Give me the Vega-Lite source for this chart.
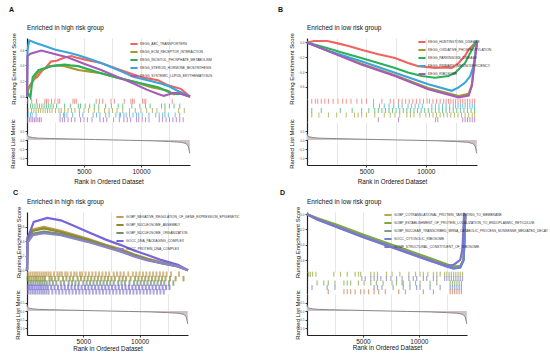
{
"$schema":"https://vega.github.io/schema/vega-lite/v6.json",
"background":"white",
"padding":{"left":9,"top":6,"right":0,"bottom":0},
"config":{
 "view":{"stroke":null},
 "font":"Liberation Sans",
 "axis":{"labelFontSize":3,"labelColor":"#555","titleFontSize":6,"titleFontWeight":"normal","titleColor":"#111","tickColor":"#444","tickSize":2,"labelPadding":1,"domainColor":"#222","domainWidth":1.2,"grid":false},
 "legend":{"title":null,"labelFontSize":3.3,"labelColor":"#333","symbolType":"M-1.8,0H1.8","symbolStrokeWidth":2,"symbolSize":16,"rowPadding":0,"labelOffset":3,"padding":0,"labelLimit":0},
 "title":{"fontSize":6.5,"fontWeight":"normal","anchor":"start","color":"#111","offset":1,"frame":"group"}
},
"datasets":{
 "metric":[{"r":0,"m":0.35},{"r":40,"m":0.25},{"r":150,"m":0.18},{"r":500,"m":0.13},{"r":1000,"m":0.1},{"r":2000,"m":0.08},{"r":4000,"m":0.05},{"r":6000,"m":0.02},{"r":7500,"m":0},{"r":9000,"m":-0.02},{"r":11000,"m":-0.05},{"r":12500,"m":-0.09},{"r":13500,"m":-0.13},{"r":13950,"m":-0.2},{"r":14150,"m":-0.35},{"r":14280,"m":-0.75}],
 "eA":[
  {"s":"KEGG_ABC_TRANSPORTERS","r":0,"v":0},{"s":"KEGG_ABC_TRANSPORTERS","r":100,"v":0.10},{"s":"KEGG_ABC_TRANSPORTERS","r":300,"v":0.14},{"s":"KEGG_ABC_TRANSPORTERS","r":600,"v":0.22},{"s":"KEGG_ABC_TRANSPORTERS","r":900,"v":0.25},{"s":"KEGG_ABC_TRANSPORTERS","r":1300,"v":0.33},{"s":"KEGG_ABC_TRANSPORTERS","r":1700,"v":0.38},{"s":"KEGG_ABC_TRANSPORTERS","r":2100,"v":0.45},{"s":"KEGG_ABC_TRANSPORTERS","r":2600,"v":0.46},{"s":"KEGG_ABC_TRANSPORTERS","r":3300,"v":0.50},{"s":"KEGG_ABC_TRANSPORTERS","r":3900,"v":0.52},{"s":"KEGG_ABC_TRANSPORTERS","r":4300,"v":0.50},{"s":"KEGG_ABC_TRANSPORTERS","r":5200,"v":0.47},{"s":"KEGG_ABC_TRANSPORTERS","r":6500,"v":0.43},{"s":"KEGG_ABC_TRANSPORTERS","r":8000,"v":0.35},{"s":"KEGG_ABC_TRANSPORTERS","r":9400,"v":0.28},{"s":"KEGG_ABC_TRANSPORTERS","r":10300,"v":0.24},{"s":"KEGG_ABC_TRANSPORTERS","r":11500,"v":0.21},{"s":"KEGG_ABC_TRANSPORTERS","r":12300,"v":0.15},{"s":"KEGG_ABC_TRANSPORTERS","r":13500,"v":0.10},{"s":"KEGG_ABC_TRANSPORTERS","r":14300,"v":0},
  {"s":"KEGG_ECM_RECEPTOR_INTERACTION","r":0,"v":0},{"s":"KEGG_ECM_RECEPTOR_INTERACTION","r":150,"v":0.12},{"s":"KEGG_ECM_RECEPTOR_INTERACTION","r":500,"v":0.2},{"s":"KEGG_ECM_RECEPTOR_INTERACTION","r":900,"v":0.3},{"s":"KEGG_ECM_RECEPTOR_INTERACTION","r":1300,"v":0.34},{"s":"KEGG_ECM_RECEPTOR_INTERACTION","r":2100,"v":0.39},{"s":"KEGG_ECM_RECEPTOR_INTERACTION","r":2700,"v":0.40},{"s":"KEGG_ECM_RECEPTOR_INTERACTION","r":3300,"v":0.39},{"s":"KEGG_ECM_RECEPTOR_INTERACTION","r":4500,"v":0.34},{"s":"KEGG_ECM_RECEPTOR_INTERACTION","r":5500,"v":0.32},{"s":"KEGG_ECM_RECEPTOR_INTERACTION","r":6500,"v":0.30},{"s":"KEGG_ECM_RECEPTOR_INTERACTION","r":8000,"v":0.24},{"s":"KEGG_ECM_RECEPTOR_INTERACTION","r":9400,"v":0.19},{"s":"KEGG_ECM_RECEPTOR_INTERACTION","r":10900,"v":0.12},{"s":"KEGG_ECM_RECEPTOR_INTERACTION","r":12300,"v":0.08},{"s":"KEGG_ECM_RECEPTOR_INTERACTION","r":12900,"v":0.03},{"s":"KEGG_ECM_RECEPTOR_INTERACTION","r":13300,"v":0.05},{"s":"KEGG_ECM_RECEPTOR_INTERACTION","r":14300,"v":0},
  {"s":"KEGG_INOSITOL_PHOSPHATE_METABOLISM","r":0,"v":0},{"s":"KEGG_INOSITOL_PHOSPHATE_METABOLISM","r":150,"v":0.03},{"s":"KEGG_INOSITOL_PHOSPHATE_METABOLISM","r":300,"v":-0.01},{"s":"KEGG_INOSITOL_PHOSPHATE_METABOLISM","r":500,"v":0.25},{"s":"KEGG_INOSITOL_PHOSPHATE_METABOLISM","r":1000,"v":0.34},{"s":"KEGG_INOSITOL_PHOSPHATE_METABOLISM","r":2100,"v":0.39},{"s":"KEGG_INOSITOL_PHOSPHATE_METABOLISM","r":3300,"v":0.41},{"s":"KEGG_INOSITOL_PHOSPHATE_METABOLISM","r":3800,"v":0.40},{"s":"KEGG_INOSITOL_PHOSPHATE_METABOLISM","r":4500,"v":0.39},{"s":"KEGG_INOSITOL_PHOSPHATE_METABOLISM","r":6500,"v":0.30},{"s":"KEGG_INOSITOL_PHOSPHATE_METABOLISM","r":8000,"v":0.24},{"s":"KEGG_INOSITOL_PHOSPHATE_METABOLISM","r":9400,"v":0.19},{"s":"KEGG_INOSITOL_PHOSPHATE_METABOLISM","r":11500,"v":0.12},{"s":"KEGG_INOSITOL_PHOSPHATE_METABOLISM","r":12600,"v":0.05},{"s":"KEGG_INOSITOL_PHOSPHATE_METABOLISM","r":13200,"v":0.03},{"s":"KEGG_INOSITOL_PHOSPHATE_METABOLISM","r":13700,"v":0.04},{"s":"KEGG_INOSITOL_PHOSPHATE_METABOLISM","r":14300,"v":0},
  {"s":"KEGG_STEROID_HORMONE_BIOSYNTHESIS","r":0,"v":0},{"s":"KEGG_STEROID_HORMONE_BIOSYNTHESIS","r":50,"v":0.6},{"s":"KEGG_STEROID_HORMONE_BIOSYNTHESIS","r":200,"v":0.72},{"s":"KEGG_STEROID_HORMONE_BIOSYNTHESIS","r":700,"v":0.69},{"s":"KEGG_STEROID_HORMONE_BIOSYNTHESIS","r":1500,"v":0.65},{"s":"KEGG_STEROID_HORMONE_BIOSYNTHESIS","r":2500,"v":0.6},{"s":"KEGG_STEROID_HORMONE_BIOSYNTHESIS","r":3600,"v":0.565},{"s":"KEGG_STEROID_HORMONE_BIOSYNTHESIS","r":4500,"v":0.53},{"s":"KEGG_STEROID_HORMONE_BIOSYNTHESIS","r":5500,"v":0.48},{"s":"KEGG_STEROID_HORMONE_BIOSYNTHESIS","r":6500,"v":0.43},{"s":"KEGG_STEROID_HORMONE_BIOSYNTHESIS","r":8000,"v":0.34},{"s":"KEGG_STEROID_HORMONE_BIOSYNTHESIS","r":9400,"v":0.25},{"s":"KEGG_STEROID_HORMONE_BIOSYNTHESIS","r":10300,"v":0.22},{"s":"KEGG_STEROID_HORMONE_BIOSYNTHESIS","r":11800,"v":0.164},{"s":"KEGG_STEROID_HORMONE_BIOSYNTHESIS","r":12500,"v":0.13},{"s":"KEGG_STEROID_HORMONE_BIOSYNTHESIS","r":13200,"v":0.076},{"s":"KEGG_STEROID_HORMONE_BIOSYNTHESIS","r":14300,"v":0},
  {"s":"KEGG_SYSTEMIC_LUPUS_ERYTHEMATOSUS","r":0,"v":0},{"s":"KEGG_SYSTEMIC_LUPUS_ERYTHEMATOSUS","r":40,"v":0.52},{"s":"KEGG_SYSTEMIC_LUPUS_ERYTHEMATOSUS","r":300,"v":0.55},{"s":"KEGG_SYSTEMIC_LUPUS_ERYTHEMATOSUS","r":1250,"v":0.59},{"s":"KEGG_SYSTEMIC_LUPUS_ERYTHEMATOSUS","r":2000,"v":0.56},{"s":"KEGG_SYSTEMIC_LUPUS_ERYTHEMATOSUS","r":3600,"v":0.5},{"s":"KEGG_SYSTEMIC_LUPUS_ERYTHEMATOSUS","r":5000,"v":0.42},{"s":"KEGG_SYSTEMIC_LUPUS_ERYTHEMATOSUS","r":6500,"v":0.34},{"s":"KEGG_SYSTEMIC_LUPUS_ERYTHEMATOSUS","r":8000,"v":0.25},{"s":"KEGG_SYSTEMIC_LUPUS_ERYTHEMATOSUS","r":9400,"v":0.164},{"s":"KEGG_SYSTEMIC_LUPUS_ERYTHEMATOSUS","r":10500,"v":0.09},{"s":"KEGG_SYSTEMIC_LUPUS_ERYTHEMATOSUS","r":11500,"v":0.035},{"s":"KEGG_SYSTEMIC_LUPUS_ERYTHEMATOSUS","r":12000,"v":0.01},{"s":"KEGG_SYSTEMIC_LUPUS_ERYTHEMATOSUS","r":12900,"v":0.05},{"s":"KEGG_SYSTEMIC_LUPUS_ERYTHEMATOSUS","r":13400,"v":0.04},{"s":"KEGG_SYSTEMIC_LUPUS_ERYTHEMATOSUS","r":14300,"v":0}
 ],
 "eB":[
  {"s":"KEGG_HUNTINGTONS_DISEASE","r":0,"v":0},{"s":"KEGG_HUNTINGTONS_DISEASE","r":600,"v":0.02},{"s":"KEGG_HUNTINGTONS_DISEASE","r":1700,"v":0.02},{"s":"KEGG_HUNTINGTONS_DISEASE","r":2600,"v":-0.013},{"s":"KEGG_HUNTINGTONS_DISEASE","r":3500,"v":-0.05},{"s":"KEGG_HUNTINGTONS_DISEASE","r":4570,"v":-0.1},{"s":"KEGG_HUNTINGTONS_DISEASE","r":6000,"v":-0.16},{"s":"KEGG_HUNTINGTONS_DISEASE","r":7400,"v":-0.213},{"s":"KEGG_HUNTINGTONS_DISEASE","r":8500,"v":-0.28},{"s":"KEGG_HUNTINGTONS_DISEASE","r":9360,"v":-0.324},{"s":"KEGG_HUNTINGTONS_DISEASE","r":10770,"v":-0.347},{"s":"KEGG_HUNTINGTONS_DISEASE","r":11500,"v":-0.34},{"s":"KEGG_HUNTINGTONS_DISEASE","r":12180,"v":-0.347},{"s":"KEGG_HUNTINGTONS_DISEASE","r":12750,"v":-0.28},{"s":"KEGG_HUNTINGTONS_DISEASE","r":13300,"v":-0.18},{"s":"KEGG_HUNTINGTONS_DISEASE","r":13600,"v":-0.1},{"s":"KEGG_HUNTINGTONS_DISEASE","r":14000,"v":-0.03},{"s":"KEGG_HUNTINGTONS_DISEASE","r":14300,"v":0},
  {"s":"KEGG_OXIDATIVE_PHOSPHORYLATION","r":0,"v":0},{"s":"KEGG_OXIDATIVE_PHOSPHORYLATION","r":4570,"v":-0.29},{"s":"KEGG_OXIDATIVE_PHOSPHORYLATION","r":7400,"v":-0.445},{"s":"KEGG_OXIDATIVE_PHOSPHORYLATION","r":10200,"v":-0.62},{"s":"KEGG_OXIDATIVE_PHOSPHORYLATION","r":12750,"v":-0.73},{"s":"KEGG_OXIDATIVE_PHOSPHORYLATION","r":13600,"v":-0.7},{"s":"KEGG_OXIDATIVE_PHOSPHORYLATION","r":13870,"v":-0.57},{"s":"KEGG_OXIDATIVE_PHOSPHORYLATION","r":14150,"v":-0.18},{"s":"KEGG_OXIDATIVE_PHOSPHORYLATION","r":14300,"v":0},
  {"s":"KEGG_PARKINSONS_DISEASE","r":0,"v":0},{"s":"KEGG_PARKINSONS_DISEASE","r":1750,"v":-0.08},{"s":"KEGG_PARKINSONS_DISEASE","r":3000,"v":-0.14},{"s":"KEGG_PARKINSONS_DISEASE","r":4570,"v":-0.213},{"s":"KEGG_PARKINSONS_DISEASE","r":6000,"v":-0.28},{"s":"KEGG_PARKINSONS_DISEASE","r":7400,"v":-0.347},{"s":"KEGG_PARKINSONS_DISEASE","r":8500,"v":-0.41},{"s":"KEGG_PARKINSONS_DISEASE","r":9640,"v":-0.458},{"s":"KEGG_PARKINSONS_DISEASE","r":10770,"v":-0.48},{"s":"KEGG_PARKINSONS_DISEASE","r":11900,"v":-0.458},{"s":"KEGG_PARKINSONS_DISEASE","r":12460,"v":-0.413},{"s":"KEGG_PARKINSONS_DISEASE","r":13300,"v":-0.28},{"s":"KEGG_PARKINSONS_DISEASE","r":13870,"v":-0.1},{"s":"KEGG_PARKINSONS_DISEASE","r":14300,"v":0.03},
  {"s":"KEGG_PRIMARY_IMMUNODEFICIENCY","r":0,"v":0},{"s":"KEGG_PRIMARY_IMMUNODEFICIENCY","r":1700,"v":-0.11},{"s":"KEGG_PRIMARY_IMMUNODEFICIENCY","r":4570,"v":-0.258},{"s":"KEGG_PRIMARY_IMMUNODEFICIENCY","r":7400,"v":-0.413},{"s":"KEGG_PRIMARY_IMMUNODEFICIENCY","r":10200,"v":-0.569},{"s":"KEGG_PRIMARY_IMMUNODEFICIENCY","r":12180,"v":-0.658},{"s":"KEGG_PRIMARY_IMMUNODEFICIENCY","r":12750,"v":-0.613},{"s":"KEGG_PRIMARY_IMMUNODEFICIENCY","r":13300,"v":-0.547},{"s":"KEGG_PRIMARY_IMMUNODEFICIENCY","r":13730,"v":-0.458},{"s":"KEGG_PRIMARY_IMMUNODEFICIENCY","r":14000,"v":-0.324},{"s":"KEGG_PRIMARY_IMMUNODEFICIENCY","r":14300,"v":0},
  {"s":"KEGG_RIBOSOME","r":0,"v":0},{"s":"KEGG_RIBOSOME","r":4570,"v":-0.302},{"s":"KEGG_RIBOSOME","r":7400,"v":-0.458},{"s":"KEGG_RIBOSOME","r":10200,"v":-0.636},{"s":"KEGG_RIBOSOME","r":12750,"v":-0.747},{"s":"KEGG_RIBOSOME","r":13600,"v":-0.724},{"s":"KEGG_RIBOSOME","r":13870,"v":-0.59},{"s":"KEGG_RIBOSOME","r":14150,"v":-0.19},{"s":"KEGG_RIBOSOME","r":14300,"v":0}
 ],
 "eC":[
  {"s":"GOBP_NEGATIVE_REGULATION_OF_GENE_EXPRESSION_EPIGENETIC","r":0,"v":0},{"s":"GOBP_NEGATIVE_REGULATION_OF_GENE_EXPRESSION_EPIGENETIC","r":50,"v":0.45},{"s":"GOBP_NEGATIVE_REGULATION_OF_GENE_EXPRESSION_EPIGENETIC","r":500,"v":0.56},{"s":"GOBP_NEGATIVE_REGULATION_OF_GENE_EXPRESSION_EPIGENETIC","r":1500,"v":0.595},{"s":"GOBP_NEGATIVE_REGULATION_OF_GENE_EXPRESSION_EPIGENETIC","r":3000,"v":0.54},{"s":"GOBP_NEGATIVE_REGULATION_OF_GENE_EXPRESSION_EPIGENETIC","r":5360,"v":0.436},{"s":"GOBP_NEGATIVE_REGULATION_OF_GENE_EXPRESSION_EPIGENETIC","r":7000,"v":0.35},{"s":"GOBP_NEGATIVE_REGULATION_OF_GENE_EXPRESSION_EPIGENETIC","r":8340,"v":0.29},{"s":"GOBP_NEGATIVE_REGULATION_OF_GENE_EXPRESSION_EPIGENETIC","r":9500,"v":0.22},{"s":"GOBP_NEGATIVE_REGULATION_OF_GENE_EXPRESSION_EPIGENETIC","r":10700,"v":0.16},{"s":"GOBP_NEGATIVE_REGULATION_OF_GENE_EXPRESSION_EPIGENETIC","r":11900,"v":0.11},{"s":"GOBP_NEGATIVE_REGULATION_OF_GENE_EXPRESSION_EPIGENETIC","r":13400,"v":0.06},{"s":"GOBP_NEGATIVE_REGULATION_OF_GENE_EXPRESSION_EPIGENETIC","r":14300,"v":0},
  {"s":"GOBP_NUCLEOSOME_ASSEMBLY","r":0,"v":0},{"s":"GOBP_NUCLEOSOME_ASSEMBLY","r":50,"v":0.42},{"s":"GOBP_NUCLEOSOME_ASSEMBLY","r":500,"v":0.54},{"s":"GOBP_NUCLEOSOME_ASSEMBLY","r":1500,"v":0.575},{"s":"GOBP_NUCLEOSOME_ASSEMBLY","r":3000,"v":0.525},{"s":"GOBP_NUCLEOSOME_ASSEMBLY","r":5360,"v":0.42},{"s":"GOBP_NUCLEOSOME_ASSEMBLY","r":7000,"v":0.34},{"s":"GOBP_NUCLEOSOME_ASSEMBLY","r":8340,"v":0.275},{"s":"GOBP_NUCLEOSOME_ASSEMBLY","r":9500,"v":0.21},{"s":"GOBP_NUCLEOSOME_ASSEMBLY","r":10700,"v":0.15},{"s":"GOBP_NUCLEOSOME_ASSEMBLY","r":11900,"v":0.1},{"s":"GOBP_NUCLEOSOME_ASSEMBLY","r":13400,"v":0.05},{"s":"GOBP_NUCLEOSOME_ASSEMBLY","r":14300,"v":0},
  {"s":"GOBP_NUCLEOSOME_ORGANIZATION","r":0,"v":0},{"s":"GOBP_NUCLEOSOME_ORGANIZATION","r":50,"v":0.40},{"s":"GOBP_NUCLEOSOME_ORGANIZATION","r":500,"v":0.5},{"s":"GOBP_NUCLEOSOME_ORGANIZATION","r":1500,"v":0.53},{"s":"GOBP_NUCLEOSOME_ORGANIZATION","r":3000,"v":0.5},{"s":"GOBP_NUCLEOSOME_ORGANIZATION","r":5360,"v":0.40},{"s":"GOBP_NUCLEOSOME_ORGANIZATION","r":7000,"v":0.325},{"s":"GOBP_NUCLEOSOME_ORGANIZATION","r":8340,"v":0.26},{"s":"GOBP_NUCLEOSOME_ORGANIZATION","r":9500,"v":0.2},{"s":"GOBP_NUCLEOSOME_ORGANIZATION","r":10700,"v":0.14},{"s":"GOBP_NUCLEOSOME_ORGANIZATION","r":11900,"v":0.095},{"s":"GOBP_NUCLEOSOME_ORGANIZATION","r":13400,"v":0.05},{"s":"GOBP_NUCLEOSOME_ORGANIZATION","r":14300,"v":0},
  {"s":"GOCC_DNA_PACKAGING_COMPLEX","r":0,"v":0},{"s":"GOCC_DNA_PACKAGING_COMPLEX","r":50,"v":0.44},{"s":"GOCC_DNA_PACKAGING_COMPLEX","r":600,"v":0.664},{"s":"GOCC_DNA_PACKAGING_COMPLEX","r":1800,"v":0.718},{"s":"GOCC_DNA_PACKAGING_COMPLEX","r":3000,"v":0.686},{"s":"GOCC_DNA_PACKAGING_COMPLEX","r":4000,"v":0.62},{"s":"GOCC_DNA_PACKAGING_COMPLEX","r":5360,"v":0.527},{"s":"GOCC_DNA_PACKAGING_COMPLEX","r":7000,"v":0.42},{"s":"GOCC_DNA_PACKAGING_COMPLEX","r":8340,"v":0.345},{"s":"GOCC_DNA_PACKAGING_COMPLEX","r":9500,"v":0.27},{"s":"GOCC_DNA_PACKAGING_COMPLEX","r":10700,"v":0.209},{"s":"GOCC_DNA_PACKAGING_COMPLEX","r":11900,"v":0.141},{"s":"GOCC_DNA_PACKAGING_COMPLEX","r":13400,"v":0.073},{"s":"GOCC_DNA_PACKAGING_COMPLEX","r":14300,"v":0},
  {"s":"GOCC_PROTEIN_DNA_COMPLEX","r":0,"v":0},{"s":"GOCC_PROTEIN_DNA_COMPLEX","r":50,"v":0.38},{"s":"GOCC_PROTEIN_DNA_COMPLEX","r":500,"v":0.48},{"s":"GOCC_PROTEIN_DNA_COMPLEX","r":1500,"v":0.51},{"s":"GOCC_PROTEIN_DNA_COMPLEX","r":3000,"v":0.48},{"s":"GOCC_PROTEIN_DNA_COMPLEX","r":5360,"v":0.39},{"s":"GOCC_PROTEIN_DNA_COMPLEX","r":7000,"v":0.315},{"s":"GOCC_PROTEIN_DNA_COMPLEX","r":8340,"v":0.255},{"s":"GOCC_PROTEIN_DNA_COMPLEX","r":9500,"v":0.19},{"s":"GOCC_PROTEIN_DNA_COMPLEX","r":10700,"v":0.135},{"s":"GOCC_PROTEIN_DNA_COMPLEX","r":11900,"v":0.1},{"s":"GOCC_PROTEIN_DNA_COMPLEX","r":13400,"v":0.055},{"s":"GOCC_PROTEIN_DNA_COMPLEX","r":14300,"v":0}
 ],
 "eD":[
  {"s":"GOBP_COTRANSLATIONAL_PROTEIN_TARGETING_TO_MEMBRANE","r":0,"v":0},{"s":"GOBP_COTRANSLATIONAL_PROTEIN_TARGETING_TO_MEMBRANE","r":900,"v":-0.055},{"s":"GOBP_COTRANSLATIONAL_PROTEIN_TARGETING_TO_MEMBRANE","r":2680,"v":-0.15},{"s":"GOBP_COTRANSLATIONAL_PROTEIN_TARGETING_TO_MEMBRANE","r":5070,"v":-0.28},{"s":"GOBP_COTRANSLATIONAL_PROTEIN_TARGETING_TO_MEMBRANE","r":8050,"v":-0.435},{"s":"GOBP_COTRANSLATIONAL_PROTEIN_TARGETING_TO_MEMBRANE","r":11030,"v":-0.59},{"s":"GOBP_COTRANSLATIONAL_PROTEIN_TARGETING_TO_MEMBRANE","r":12500,"v":-0.67},{"s":"GOBP_COTRANSLATIONAL_PROTEIN_TARGETING_TO_MEMBRANE","r":13100,"v":-0.70},{"s":"GOBP_COTRANSLATIONAL_PROTEIN_TARGETING_TO_MEMBRANE","r":13700,"v":-0.69},{"s":"GOBP_COTRANSLATIONAL_PROTEIN_TARGETING_TO_MEMBRANE","r":14000,"v":-0.6},{"s":"GOBP_COTRANSLATIONAL_PROTEIN_TARGETING_TO_MEMBRANE","r":14100,"v":-0.2},{"s":"GOBP_COTRANSLATIONAL_PROTEIN_TARGETING_TO_MEMBRANE","r":14150,"v":0},
  {"s":"GOBP_ESTABLISHMENT_OF_PROTEIN_LOCALIZATION_TO_ENDOPLASMIC_RETICULUM","r":0,"v":0},{"s":"GOBP_ESTABLISHMENT_OF_PROTEIN_LOCALIZATION_TO_ENDOPLASMIC_RETICULUM","r":900,"v":-0.05},{"s":"GOBP_ESTABLISHMENT_OF_PROTEIN_LOCALIZATION_TO_ENDOPLASMIC_RETICULUM","r":2680,"v":-0.14},{"s":"GOBP_ESTABLISHMENT_OF_PROTEIN_LOCALIZATION_TO_ENDOPLASMIC_RETICULUM","r":5070,"v":-0.27},{"s":"GOBP_ESTABLISHMENT_OF_PROTEIN_LOCALIZATION_TO_ENDOPLASMIC_RETICULUM","r":8050,"v":-0.425},{"s":"GOBP_ESTABLISHMENT_OF_PROTEIN_LOCALIZATION_TO_ENDOPLASMIC_RETICULUM","r":11030,"v":-0.58},{"s":"GOBP_ESTABLISHMENT_OF_PROTEIN_LOCALIZATION_TO_ENDOPLASMIC_RETICULUM","r":12500,"v":-0.66},{"s":"GOBP_ESTABLISHMENT_OF_PROTEIN_LOCALIZATION_TO_ENDOPLASMIC_RETICULUM","r":13100,"v":-0.69},{"s":"GOBP_ESTABLISHMENT_OF_PROTEIN_LOCALIZATION_TO_ENDOPLASMIC_RETICULUM","r":13700,"v":-0.68},{"s":"GOBP_ESTABLISHMENT_OF_PROTEIN_LOCALIZATION_TO_ENDOPLASMIC_RETICULUM","r":14000,"v":-0.6},{"s":"GOBP_ESTABLISHMENT_OF_PROTEIN_LOCALIZATION_TO_ENDOPLASMIC_RETICULUM","r":14100,"v":-0.2},{"s":"GOBP_ESTABLISHMENT_OF_PROTEIN_LOCALIZATION_TO_ENDOPLASMIC_RETICULUM","r":14150,"v":0},
  {"s":"GOBP_NUCLEAR_TRANSCRIBED_MRNA_CATABOLIC_PROCESS_NONSENSE_MEDIATED_DECAY","r":0,"v":0},{"s":"GOBP_NUCLEAR_TRANSCRIBED_MRNA_CATABOLIC_PROCESS_NONSENSE_MEDIATED_DECAY","r":900,"v":-0.06},{"s":"GOBP_NUCLEAR_TRANSCRIBED_MRNA_CATABOLIC_PROCESS_NONSENSE_MEDIATED_DECAY","r":2680,"v":-0.16},{"s":"GOBP_NUCLEAR_TRANSCRIBED_MRNA_CATABOLIC_PROCESS_NONSENSE_MEDIATED_DECAY","r":5070,"v":-0.29},{"s":"GOBP_NUCLEAR_TRANSCRIBED_MRNA_CATABOLIC_PROCESS_NONSENSE_MEDIATED_DECAY","r":8050,"v":-0.445},{"s":"GOBP_NUCLEAR_TRANSCRIBED_MRNA_CATABOLIC_PROCESS_NONSENSE_MEDIATED_DECAY","r":11030,"v":-0.6},{"s":"GOBP_NUCLEAR_TRANSCRIBED_MRNA_CATABOLIC_PROCESS_NONSENSE_MEDIATED_DECAY","r":12500,"v":-0.68},{"s":"GOBP_NUCLEAR_TRANSCRIBED_MRNA_CATABOLIC_PROCESS_NONSENSE_MEDIATED_DECAY","r":13100,"v":-0.71},{"s":"GOBP_NUCLEAR_TRANSCRIBED_MRNA_CATABOLIC_PROCESS_NONSENSE_MEDIATED_DECAY","r":13700,"v":-0.70},{"s":"GOBP_NUCLEAR_TRANSCRIBED_MRNA_CATABOLIC_PROCESS_NONSENSE_MEDIATED_DECAY","r":14000,"v":-0.6},{"s":"GOBP_NUCLEAR_TRANSCRIBED_MRNA_CATABOLIC_PROCESS_NONSENSE_MEDIATED_DECAY","r":14100,"v":-0.2},{"s":"GOBP_NUCLEAR_TRANSCRIBED_MRNA_CATABOLIC_PROCESS_NONSENSE_MEDIATED_DECAY","r":14150,"v":0},
  {"s":"GOCC_CYTOSOLIC_RIBOSOME","r":0,"v":0},{"s":"GOCC_CYTOSOLIC_RIBOSOME","r":900,"v":-0.065},{"s":"GOCC_CYTOSOLIC_RIBOSOME","r":2680,"v":-0.165},{"s":"GOCC_CYTOSOLIC_RIBOSOME","r":5070,"v":-0.3},{"s":"GOCC_CYTOSOLIC_RIBOSOME","r":8050,"v":-0.455},{"s":"GOCC_CYTOSOLIC_RIBOSOME","r":11030,"v":-0.61},{"s":"GOCC_CYTOSOLIC_RIBOSOME","r":12500,"v":-0.69},{"s":"GOCC_CYTOSOLIC_RIBOSOME","r":13100,"v":-0.715},{"s":"GOCC_CYTOSOLIC_RIBOSOME","r":13700,"v":-0.70},{"s":"GOCC_CYTOSOLIC_RIBOSOME","r":14000,"v":-0.6},{"s":"GOCC_CYTOSOLIC_RIBOSOME","r":14100,"v":-0.2},{"s":"GOCC_CYTOSOLIC_RIBOSOME","r":14150,"v":0},
  {"s":"GOMF_STRUCTURAL_CONSTITUENT_OF_RIBOSOME","r":0,"v":0},{"s":"GOMF_STRUCTURAL_CONSTITUENT_OF_RIBOSOME","r":900,"v":-0.07},{"s":"GOMF_STRUCTURAL_CONSTITUENT_OF_RIBOSOME","r":2680,"v":-0.17},{"s":"GOMF_STRUCTURAL_CONSTITUENT_OF_RIBOSOME","r":5070,"v":-0.305},{"s":"GOMF_STRUCTURAL_CONSTITUENT_OF_RIBOSOME","r":8050,"v":-0.46},{"s":"GOMF_STRUCTURAL_CONSTITUENT_OF_RIBOSOME","r":11030,"v":-0.615},{"s":"GOMF_STRUCTURAL_CONSTITUENT_OF_RIBOSOME","r":12500,"v":-0.68},{"s":"GOMF_STRUCTURAL_CONSTITUENT_OF_RIBOSOME","r":13100,"v":-0.667},{"s":"GOMF_STRUCTURAL_CONSTITUENT_OF_RIBOSOME","r":13700,"v":-0.6},{"s":"GOMF_STRUCTURAL_CONSTITUENT_OF_RIBOSOME","r":13900,"v":-0.45},{"s":"GOMF_STRUCTURAL_CONSTITUENT_OF_RIBOSOME","r":14000,"v":-0.1},{"s":"GOMF_STRUCTURAL_CONSTITUENT_OF_RIBOSOME","r":14050,"v":0.02}
 ],
 "tA":[
  {"k":1,"r":60},{"k":1,"r":410},{"k":1,"r":840},{"k":1,"r":1570},{"k":1,"r":1710},{"k":1,"r":1860},{"k":1,"r":2150},{"k":1,"r":2440},{"k":1,"r":2720},{"k":1,"r":2870},{"k":1,"r":4030},{"k":1,"r":4180},{"k":1,"r":4330},{"k":1,"r":6070},{"k":1,"r":6360},{"k":1,"r":6640},{"k":1,"r":7370},{"k":1,"r":7660},{"k":1,"r":8530},{"k":1,"r":9110},{"k":1,"r":9260},{"k":1,"r":9400},{"k":1,"r":10130},{"k":1,"r":10280},{"k":1,"r":10420},{"k":1,"r":12740},
  {"k":2,"r":300},{"k":2,"r":500},{"k":2,"r":700},{"k":2,"r":900},{"k":2,"r":1100},{"k":2,"r":1300},{"k":2,"r":1500},{"k":2,"r":1700},{"k":2,"r":1900},{"k":2,"r":2100},{"k":2,"r":2300},{"k":2,"r":2600},{"k":2,"r":3300},{"k":2,"r":3800},{"k":2,"r":4500},{"k":2,"r":4700},{"k":2,"r":5100},{"k":2,"r":5500},{"k":2,"r":5900},{"k":2,"r":6300},{"k":2,"r":6900},{"k":2,"r":7400},{"k":2,"r":8000},{"k":2,"r":8400},{"k":2,"r":9200},{"k":2,"r":9900},{"k":2,"r":10400},{"k":2,"r":10800},{"k":2,"r":11800},{"k":2,"r":12100},{"k":2,"r":12500},{"k":2,"r":12900},{"k":2,"r":13400},
  {"k":3,"r":100},{"k":3,"r":400},{"k":3,"r":600},{"k":3,"r":800},{"k":3,"r":1000},{"k":3,"r":1200},{"k":3,"r":1400},{"k":3,"r":1600},{"k":3,"r":1800},{"k":3,"r":2000},{"k":3,"r":2200},{"k":3,"r":2500},{"k":3,"r":2800},{"k":3,"r":3000},{"k":3,"r":3300},{"k":3,"r":3600},{"k":3,"r":3900},{"k":3,"r":4200},{"k":3,"r":4600},{"k":3,"r":5000},{"k":3,"r":5400},{"k":3,"r":5900},{"k":3,"r":6300},{"k":3,"r":6800},{"k":3,"r":7200},{"k":3,"r":7500},{"k":3,"r":7900},{"k":3,"r":8400},{"k":3,"r":9000},{"k":3,"r":9500},{"k":3,"r":10000},{"k":3,"r":10500},{"k":3,"r":11000},{"k":3,"r":11400},{"k":3,"r":12100},{"k":3,"r":13300},{"k":3,"r":13800},
  {"k":4,"r":100},{"k":4,"r":300},{"k":4,"r":450},{"k":4,"r":800},{"k":4,"r":2900},{"k":4,"r":3200},{"k":4,"r":3300},{"k":4,"r":3500},{"k":4,"r":4000},{"k":4,"r":4600},{"k":4,"r":4900},{"k":4,"r":5800},{"k":4,"r":6100},{"k":4,"r":6400},{"k":4,"r":6900},{"k":4,"r":7200},{"k":4,"r":7800},{"k":4,"r":8100},{"k":4,"r":8200},{"k":4,"r":8500},{"k":4,"r":8700},{"k":4,"r":9000},{"k":4,"r":9300},{"k":4,"r":9600},{"k":4,"r":9800},{"k":4,"r":10100},{"k":4,"r":10700},{"k":4,"r":11300},{"k":4,"r":11600},{"k":4,"r":11900},{"k":4,"r":12100},{"k":4,"r":12400},{"k":4,"r":13000},{"k":4,"r":13400},
  {"k":5,"r":50},{"k":5,"r":200},{"k":5,"r":350},{"k":5,"r":500},{"k":5,"r":650},{"k":5,"r":800},{"k":5,"r":950},{"k":5,"r":1100},{"k":5,"r":1250},{"k":5,"r":2900},{"k":5,"r":3100},{"k":5,"r":3300},{"k":5,"r":3600},{"k":5,"r":3900},{"k":5,"r":4200},{"k":5,"r":4700},{"k":5,"r":5000},{"k":5,"r":5300},{"k":5,"r":5700},{"k":5,"r":6400},{"k":5,"r":6700},{"k":5,"r":7000},{"k":5,"r":7600},{"k":5,"r":8100},{"k":5,"r":8500},{"k":5,"r":8800},{"k":5,"r":9100},{"k":5,"r":9600},{"k":5,"r":9800},{"k":5,"r":10100},{"k":5,"r":10400},{"k":5,"r":10700},{"k":5,"r":11600},{"k":5,"r":11900},{"k":5,"r":12200},{"k":5,"r":12500},{"k":5,"r":12800},{"k":5,"r":13100},{"k":5,"r":13400},{"k":5,"r":13700}
 ],
 "tB":[
  {"k":1,"r":400},{"k":1,"r":700},{"k":1,"r":900},{"k":1,"r":1200},{"k":1,"r":1500},{"k":1,"r":1800},{"k":1,"r":2200},{"k":1,"r":2600},{"k":1,"r":3000},{"k":1,"r":3300},{"k":1,"r":3700},{"k":1,"r":4200},{"k":1,"r":4600},{"k":1,"r":5000},{"k":1,"r":5600},{"k":1,"r":6300},{"k":1,"r":7000},{"k":1,"r":7300},{"k":1,"r":7700},{"k":1,"r":8000},{"k":1,"r":8300},{"k":1,"r":8600},{"k":1,"r":8900},{"k":1,"r":9200},{"k":1,"r":9500},{"k":1,"r":9800},{"k":1,"r":10100},{"k":1,"r":10300},{"k":1,"r":10600},{"k":1,"r":10900},{"k":1,"r":11200},{"k":1,"r":11500},{"k":1,"r":11700},{"k":1,"r":11900},{"k":1,"r":12100},{"k":1,"r":12300},{"k":1,"r":12500},{"k":1,"r":12700},{"k":1,"r":12900},{"k":1,"r":13100},{"k":1,"r":13300},{"k":1,"r":13500},{"k":1,"r":13700},{"k":1,"r":13900},{"k":1,"r":14100},
  {"k":2,"r":5600},{"k":2,"r":6100},{"k":2,"r":6500},{"k":2,"r":6900},{"k":2,"r":7300},{"k":2,"r":7700},{"k":2,"r":8000},{"k":2,"r":8500},{"k":2,"r":8800},{"k":2,"r":9100},{"k":2,"r":9400},{"k":2,"r":9700},{"k":2,"r":10500},{"k":2,"r":10800},{"k":2,"r":11100},{"k":2,"r":11400},{"k":2,"r":11700},{"k":2,"r":12000},{"k":2,"r":12300},{"k":2,"r":12500},{"k":2,"r":12700},{"k":2,"r":12900},{"k":2,"r":13100},{"k":2,"r":13300},{"k":2,"r":13500},{"k":2,"r":13700},{"k":2,"r":13900},{"k":2,"r":14100},
  {"k":3,"r":400},{"k":3,"r":1200},{"k":3,"r":2800},{"k":3,"r":3800},{"k":3,"r":4600},{"k":3,"r":5200},{"k":3,"r":5700},{"k":3,"r":6000},{"k":3,"r":6300},{"k":3,"r":6600},{"k":3,"r":6900},{"k":3,"r":7200},{"k":3,"r":7500},{"k":3,"r":7800},{"k":3,"r":8100},{"k":3,"r":8400},{"k":3,"r":8700},{"k":3,"r":9000},{"k":3,"r":9300},{"k":3,"r":9600},{"k":3,"r":9900},{"k":3,"r":10200},{"k":3,"r":10500},{"k":3,"r":10800},{"k":3,"r":11100},{"k":3,"r":11400},{"k":3,"r":11700},{"k":3,"r":12000},{"k":3,"r":12300},{"k":3,"r":12600},{"k":3,"r":12900},{"k":3,"r":13200},{"k":3,"r":13500},{"k":3,"r":13800},{"k":3,"r":14100},
  {"k":4,"r":400},{"k":4,"r":1000},{"k":4,"r":1800},{"k":4,"r":2500},{"k":4,"r":3300},{"k":4,"r":4000},{"k":4,"r":4300},{"k":4,"r":4600},{"k":4,"r":5000},{"k":4,"r":5700},{"k":4,"r":6500},{"k":4,"r":7000},{"k":4,"r":7400},{"k":4,"r":7800},{"k":4,"r":8400},{"k":4,"r":8700},{"k":4,"r":9000},{"k":4,"r":9500},{"k":4,"r":10000},{"k":4,"r":10300},{"k":4,"r":10600},{"k":4,"r":10900},{"k":4,"r":11200},{"k":4,"r":11500},{"k":4,"r":11800},{"k":4,"r":12100},{"k":4,"r":12400},{"k":4,"r":12700},{"k":4,"r":13000},{"k":4,"r":13300},{"k":4,"r":13600},{"k":4,"r":13900},{"k":4,"r":14100},
  {"k":5,"r":6000},{"k":5,"r":7700},{"k":5,"r":10800},{"k":5,"r":11000},{"k":5,"r":13100},{"k":5,"r":13300},{"k":5,"r":13500},{"k":5,"r":13700},{"k":5,"r":13900},{"k":5,"r":14100}
 ],
 "tC":[
  {"k":1,"r":100},{"k":1,"r":300},{"k":1,"r":500},{"k":1,"r":700},{"k":1,"r":900},{"k":1,"r":1100},{"k":1,"r":1300},{"k":1,"r":1500},{"k":1,"r":1700},{"k":1,"r":1900},{"k":1,"r":2100},{"k":1,"r":2400},{"k":1,"r":2700},{"k":1,"r":2900},{"k":1,"r":3100},{"k":1,"r":3400},{"k":1,"r":3600},{"k":1,"r":3900},{"k":1,"r":4200},{"k":1,"r":4400},{"k":1,"r":4700},{"k":1,"r":4900},{"k":1,"r":5200},{"k":1,"r":5500},{"k":1,"r":5800},{"k":1,"r":6100},{"k":1,"r":6400},{"k":1,"r":6700},{"k":1,"r":7000},{"k":1,"r":7300},{"k":1,"r":7700},{"k":1,"r":8000},{"k":1,"r":8300},{"k":1,"r":8600},{"k":1,"r":9000},{"k":1,"r":9400},{"k":1,"r":9700},{"k":1,"r":10000},{"k":1,"r":10300},{"k":1,"r":10600},{"k":1,"r":10900},{"k":1,"r":11200},{"k":1,"r":11500},{"k":1,"r":11800},{"k":1,"r":12100},{"k":1,"r":12400},{"k":1,"r":12800},{"k":1,"r":13500},
  {"k":2,"r":50},{"k":2,"r":200},{"k":2,"r":400},{"k":2,"r":600},{"k":2,"r":800},{"k":2,"r":1000},{"k":2,"r":1200},{"k":2,"r":1400},{"k":2,"r":1600},{"k":2,"r":2000},{"k":2,"r":2200},{"k":2,"r":2500},{"k":2,"r":2800},{"k":2,"r":3200},{"k":2,"r":3500},{"k":2,"r":3800},{"k":2,"r":4100},{"k":2,"r":4500},{"k":2,"r":4800},{"k":2,"r":5100},{"k":2,"r":5400},{"k":2,"r":5700},{"k":2,"r":6000},{"k":2,"r":6300},{"k":2,"r":6600},{"k":2,"r":6900},{"k":2,"r":7200},{"k":2,"r":7500},{"k":2,"r":7800},{"k":2,"r":8200},{"k":2,"r":8500},{"k":2,"r":8800},{"k":2,"r":9200},{"k":2,"r":9600},{"k":2,"r":9900},{"k":2,"r":10200},{"k":2,"r":10500},{"k":2,"r":10800},{"k":2,"r":11100},{"k":2,"r":11400},{"k":2,"r":11700},{"k":2,"r":12000},{"k":2,"r":12300},{"k":2,"r":12700},{"k":2,"r":13200},{"k":2,"r":13900},
  {"k":3,"r":150},{"k":3,"r":350},{"k":3,"r":550},{"k":3,"r":750},{"k":3,"r":950},{"k":3,"r":1150},{"k":3,"r":1350},{"k":3,"r":1550},{"k":3,"r":1750},{"k":3,"r":2000},{"k":3,"r":2300},{"k":3,"r":2600},{"k":3,"r":3000},{"k":3,"r":3300},{"k":3,"r":3700},{"k":3,"r":4000},{"k":3,"r":4300},{"k":3,"r":4600},{"k":3,"r":5000},{"k":3,"r":5300},{"k":3,"r":5600},{"k":3,"r":5900},{"k":3,"r":6200},{"k":3,"r":6500},{"k":3,"r":6800},{"k":3,"r":7100},{"k":3,"r":7400},{"k":3,"r":7700},{"k":3,"r":8100},{"k":3,"r":8400},{"k":3,"r":8700},{"k":3,"r":9100},{"k":3,"r":9500},{"k":3,"r":9800},{"k":3,"r":10100},{"k":3,"r":10400},{"k":3,"r":10700},{"k":3,"r":11000},{"k":3,"r":11300},{"k":3,"r":11600},{"k":3,"r":11900},{"k":3,"r":12200},{"k":3,"r":12600},{"k":3,"r":13000},
  {"k":4,"r":80},{"k":4,"r":250},{"k":4,"r":450},{"k":4,"r":650},{"k":4,"r":850},{"k":4,"r":1050},{"k":4,"r":1250},{"k":4,"r":1450},{"k":4,"r":1650},{"k":4,"r":1850},{"k":4,"r":2150},{"k":4,"r":2450},{"k":4,"r":2750},{"k":4,"r":3050},{"k":4,"r":3350},{"k":4,"r":3650},{"k":4,"r":3950},{"k":4,"r":4250},{"k":4,"r":4550},{"k":4,"r":4850},{"k":4,"r":5150},{"k":4,"r":5450},{"k":4,"r":5750},{"k":4,"r":6050},{"k":4,"r":6350},{"k":4,"r":6650},{"k":4,"r":6950},{"k":4,"r":7250},{"k":4,"r":7550},{"k":4,"r":7850},{"k":4,"r":8150},{"k":4,"r":8450},{"k":4,"r":8750},{"k":4,"r":9050},{"k":4,"r":9350},{"k":4,"r":9650},{"k":4,"r":9950},{"k":4,"r":10250},{"k":4,"r":10550},{"k":4,"r":10850},{"k":4,"r":11150},{"k":4,"r":11450},{"k":4,"r":11750},{"k":4,"r":12050},{"k":4,"r":12350},{"k":4,"r":12650},
  {"k":5,"r":120},{"k":5,"r":320},{"k":5,"r":520},{"k":5,"r":720},{"k":5,"r":920},{"k":5,"r":1120},{"k":5,"r":1320},{"k":5,"r":1520},{"k":5,"r":1720},{"k":5,"r":1920},{"k":5,"r":2250},{"k":5,"r":2550},{"k":5,"r":2850},{"k":5,"r":3150},{"k":5,"r":3450},{"k":5,"r":3750},{"k":5,"r":4050},{"k":5,"r":4350},{"k":5,"r":4650},{"k":5,"r":4950},{"k":5,"r":5250},{"k":5,"r":5550},{"k":5,"r":5850},{"k":5,"r":6150},{"k":5,"r":6450},{"k":5,"r":6750},{"k":5,"r":7050},{"k":5,"r":7350},{"k":5,"r":7650},{"k":5,"r":7950},{"k":5,"r":8250},{"k":5,"r":8550},{"k":5,"r":8850},{"k":5,"r":9150},{"k":5,"r":9450},{"k":5,"r":9750},{"k":5,"r":10050},{"k":5,"r":10350},{"k":5,"r":10650},{"k":5,"r":10950},{"k":5,"r":11250},{"k":5,"r":11550},{"k":5,"r":11850},{"k":5,"r":12150}
 ],
 "tD":[
  {"k":1,"r":150},{"k":1,"r":300},{"k":1,"r":500},{"k":1,"r":800},{"k":1,"r":2400},{"k":1,"r":3000},{"k":1,"r":3600},{"k":1,"r":4300},{"k":1,"r":4600},{"k":1,"r":4800},{"k":1,"r":5700},{"k":1,"r":6000},{"k":1,"r":6300},{"k":1,"r":7100},{"k":1,"r":7600},{"k":1,"r":8300},{"k":1,"r":9100},{"k":1,"r":9700},{"k":1,"r":10100},{"k":1,"r":10400},{"k":1,"r":10800},{"k":1,"r":11300},{"k":1,"r":11600},{"k":1,"r":11900},{"k":1,"r":12300},{"k":1,"r":12500},{"k":1,"r":12700},{"k":1,"r":12900},{"k":1,"r":13100},{"k":1,"r":13300},{"k":1,"r":13500},{"k":1,"r":13700},{"k":1,"r":13900},
  {"k":2,"r":4900},{"k":2,"r":5200},{"k":2,"r":5700},{"k":2,"r":6000},{"k":2,"r":6300},{"k":2,"r":6600},{"k":2,"r":7100},{"k":2,"r":7500},{"k":2,"r":8000},{"k":2,"r":8500},{"k":2,"r":9100},{"k":2,"r":9500},{"k":2,"r":9800},{"k":2,"r":10400},{"k":2,"r":10700},{"k":2,"r":11300},{"k":2,"r":11600},{"k":2,"r":12300},{"k":2,"r":12500},{"k":2,"r":12700},{"k":2,"r":12900},{"k":2,"r":13100},{"k":2,"r":13300},{"k":2,"r":13500},{"k":2,"r":13700},{"k":2,"r":13900},
  {"k":3,"r":900},{"k":3,"r":1500},{"k":3,"r":1900},{"k":3,"r":2500},{"k":3,"r":3300},{"k":3,"r":3600},{"k":3,"r":3900},{"k":3,"r":4600},{"k":3,"r":5100},{"k":3,"r":5700},{"k":3,"r":6200},{"k":3,"r":6800},{"k":3,"r":7600},{"k":3,"r":8000},{"k":3,"r":8500},{"k":3,"r":8600},{"k":3,"r":9200},{"k":3,"r":9700},{"k":3,"r":10100},{"k":3,"r":11000},{"k":3,"r":11600},{"k":3,"r":12800},{"k":3,"r":13000},{"k":3,"r":13200},{"k":3,"r":13400},{"k":3,"r":13600},{"k":3,"r":13800},
  {"k":4,"r":450},{"k":4,"r":1800},{"k":4,"r":2500},{"k":4,"r":6000},{"k":4,"r":6300},{"k":4,"r":6700},{"k":4,"r":7700},{"k":4,"r":8600},{"k":4,"r":9200},{"k":4,"r":9800},{"k":4,"r":10100},{"k":4,"r":11000},{"k":4,"r":11900},{"k":4,"r":12800},{"k":4,"r":13000},{"k":4,"r":13200},{"k":4,"r":13400},{"k":4,"r":13600},{"k":4,"r":13800},
  {"k":5,"r":1900},{"k":5,"r":3300},{"k":5,"r":3600},{"k":5,"r":3900},{"k":5,"r":4300},{"k":5,"r":4800},{"k":5,"r":5100},{"k":5,"r":5500},{"k":5,"r":6000},{"k":5,"r":6400},{"k":5,"r":7000},{"k":5,"r":8200},{"k":5,"r":8800},{"k":5,"r":10400},{"k":5,"r":11300},{"k":5,"r":12800},{"k":5,"r":13000},{"k":5,"r":13200},{"k":5,"r":13400},{"k":5,"r":13600},{"k":5,"r":13800}
 ]
},
"columns":2,
"align":"each",
"bounds":"flush",
"spacing":{"row":0,"column":117},
"resolve":{"scale":{"color":"independent","x":"independent","y":"independent"}},
"concat":[
 {"width":163,"height":24,"data":{"values":[]},"mark":{"type":"point"},"title":{"text":"A","fontSize":7,"fontWeight":"bold","offset":1,"dx":-18}},
 {"width":170,"height":24,"data":{"values":[]},"mark":{"type":"point"},"title":{"text":"B","fontSize":7,"fontWeight":"bold","offset":1,"dx":-29}},
 {"width":163,"height":61,"title":{"text":"Enriched in high risk group"},
  "data":{"name":"eA"},
  "mark":{"type":"line","strokeWidth":2.1},
  "encoding":{
   "x":{"field":"r","type":"quantitative","scale":{"domain":[0,14300],"nice":false,"zero":false},"axis":{"values":[2500,5000,7500,10000,12500],"labels":false,"ticks":false,"domain":false,"title":null,"grid":true,"gridColor":"#e6e6e6"}},
   "y":{"field":"v","type":"quantitative","scale":{"domain":[-0.03,0.75],"nice":false,"zero":false},"axis":{"values":[0,0.2,0.4,0.6],"format":".1f","title":"Running Enrichment Score","titlePadding":3}},
   "color":{"field":"s","type":"nominal","scale":{"domain":["KEGG_ABC_TRANSPORTERS","KEGG_ECM_RECEPTOR_INTERACTION","KEGG_INOSITOL_PHOSPHATE_METABOLISM","KEGG_STEROID_HORMONE_BIOSYNTHESIS","KEGG_SYSTEMIC_LUPUS_ERYTHEMATOSUS"],"range":["#F0645F","#A39A2E","#2EAF5A","#3AA4DC","#A65BB8"]},"legend":{"orient":"none","legendX":104,"legendY":3,"symbolSize":16}}
  }},
 {"width":170,"height":61,"title":{"text":"Enriched in low risk group"},
  "data":{"name":"eB"},
  "mark":{"type":"line","strokeWidth":2.1},
  "encoding":{
   "x":{"field":"r","type":"quantitative","scale":{"domain":[0,14300],"nice":false,"zero":false},"axis":{"values":[2500,5000,7500,10000,12500],"labels":false,"ticks":false,"domain":false,"title":null,"grid":true,"gridColor":"#e6e6e6"}},
   "y":{"field":"v","type":"quantitative","scale":{"domain":[-0.77,0.06],"nice":false,"zero":false},"axis":{"values":[-0.6,-0.4,-0.2,0],"format":".1f","title":"Running Enrichment Score","titlePadding":3.5}},
   "color":{"field":"s","type":"nominal","scale":{"domain":["KEGG_HUNTINGTONS_DISEASE","KEGG_OXIDATIVE_PHOSPHORYLATION","KEGG_PARKINSONS_DISEASE","KEGG_PRIMARY_IMMUNODEFICIENCY","KEGG_RIBOSOME"],"range":["#F0645F","#A39A2E","#2EAF5A","#3AA4DC","#A65BB8"]},"legend":{"orient":"none","legendX":112,"legendY":1,"symbolSize":16}}
  }},
 {"width":163,"height":23,"data":{"name":"tA"},
  "mark":{"type":"tick","thickness":1,"size":5},
  "encoding":{
   "x":{"field":"r","type":"quantitative","scale":{"domain":[0,14300],"nice":false,"zero":false},"axis":null},
   "y":{"field":"k","type":"nominal","axis":{"labels":false,"ticks":false,"title":null}},
   "color":{"field":"k","type":"nominal","scale":{"domain":[1,2,3,4,5],"range":["#F0645F","#2EAF5A","#A39A2E","#3AA4DC","#A65BB8"]},"legend":null}
  }},
 {"width":170,"height":23,"data":{"name":"tB"},
  "mark":{"type":"tick","thickness":1,"size":5},
  "encoding":{
   "x":{"field":"r","type":"quantitative","scale":{"domain":[0,14300],"nice":false,"zero":false},"axis":null},
   "y":{"field":"k","type":"nominal","axis":{"labels":false,"ticks":false,"title":null}},
   "color":{"field":"k","type":"nominal","scale":{"domain":[1,2,3,4,5],"range":["#F0645F","#3AA4DC","#2EAF5A","#A39A2E","#A65BB8"]},"legend":null}
  }},
 {"width":163,"height":43,"data":{"name":"metric"},
  "encoding":{
   "x":{"field":"r","type":"quantitative","scale":{"domain":[0,14300],"nice":false,"zero":false},"axis":{"values":[2500,5000,7500,10000,12500],"format":"d","labelExpr":"datum.value % 5000 === 0 ? datum.label : ''","labelFontSize":6.5,"labelColor":"#222","labelPadding":1.5,"title":"Rank in Ordered Dataset","titleFontSize":6.3,"titlePadding":3,"grid":true,"gridColor":"#e6e6e6","tickColor":{"condition":{"test":"datum.value % 5000 === 0","value":"#444"},"value":"transparent"}}},
   "y":{"field":"m","type":"quantitative","scale":{"domain":[-1.4,1],"nice":false,"zero":false},"axis":{"values":[-1,-0.5,0,0.5],"format":".1f","title":"Ranked List Metric","titlePadding":3}}
  },
  "layer":[
   {"mark":{"type":"area","color":"#cbc3c7"},"encoding":{"y2":{"datum":0}}},
   {"mark":{"type":"line","color":"#8e868a","strokeWidth":1}}
  ]},
 {"width":170,"height":43,"data":{"name":"metric"},
  "encoding":{
   "x":{"field":"r","type":"quantitative","scale":{"domain":[0,14300],"nice":false,"zero":false},"axis":{"values":[2500,5000,7500,10000,12500],"format":"d","labelExpr":"datum.value % 5000 === 0 ? datum.label : ''","labelFontSize":6.5,"labelColor":"#222","labelPadding":1.5,"title":"Rank in Ordered Dataset","titleFontSize":6.3,"titlePadding":3,"grid":true,"gridColor":"#e6e6e6","tickColor":{"condition":{"test":"datum.value % 5000 === 0","value":"#444"},"value":"transparent"}}},
   "y":{"field":"m","type":"quantitative","scale":{"domain":[-1.4,1],"nice":false,"zero":false},"axis":{"values":[-1,-0.5,0,0.5],"format":".1f","title":"Ranked List Metric","titlePadding":3.5}}
  },
  "layer":[
   {"mark":{"type":"area","color":"#cbc3c7"},"encoding":{"y2":{"datum":0}}},
   {"mark":{"type":"line","color":"#8e868a","strokeWidth":1}}
  ]},
 {"width":163,"height":47,"data":{"values":[]},"mark":{"type":"point"},"title":{"text":"C","fontSize":7,"fontWeight":"bold","offset":-31,"dx":-14}},
 {"width":170,"height":47,"data":{"values":[]},"mark":{"type":"point"},"title":{"text":"D","fontSize":7,"fontWeight":"bold","offset":-31,"dx":-27}},
 {"width":161,"height":60,"title":{"text":"Enriched in high risk group"},
  "data":{"name":"eC"},
  "mark":{"type":"line","strokeWidth":2.2},
  "encoding":{
   "x":{"field":"r","type":"quantitative","scale":{"domain":[0,14300],"nice":false,"zero":false},"axis":{"values":[2500,5000,7500,10000,12500],"labels":false,"ticks":false,"domain":false,"title":null,"grid":true,"gridColor":"#e6e6e6"}},
   "y":{"field":"v","type":"quantitative","scale":{"domain":[-0.025,0.8],"nice":false,"zero":false},"axis":{"values":[0,0.2,0.4,0.6],"format":".1f","title":"Running Enrichment Score","titlePadding":-2}},
   "color":{"field":"s","type":"nominal","scale":{"domain":["GOBP_NEGATIVE_REGULATION_OF_GENE_EXPRESSION_EPIGENETIC","GOBP_NUCLEOSOME_ASSEMBLY","GOBP_NUCLEOSOME_ORGANIZATION","GOCC_DNA_PACKAGING_COMPLEX","GOCC_PROTEIN_DNA_COMPLEX"],"range":["#C49A55","#8C8A2A","#6F8F6B","#7466DA","#8A84C6"]},"legend":{"orient":"none","legendX":90,"legendY":2,"symbolSize":16}}
  }},
 {"width":160,"height":60,"title":{"text":"Enriched in low risk group"},
  "data":{"name":"eD"},
  "mark":{"type":"line","strokeWidth":2.2},
  "encoding":{
   "x":{"field":"r","type":"quantitative","scale":{"domain":[0,14300],"nice":false,"zero":false},"axis":{"values":[2500,5000,7500,10000,12500],"labels":false,"ticks":false,"domain":false,"title":null,"grid":true,"gridColor":"#e6e6e6"}},
   "y":{"field":"v","type":"quantitative","scale":{"domain":[-0.76,0.03],"nice":false,"zero":false},"axis":{"values":[-0.6,-0.4,-0.2,0],"format":".1f","title":"Running Enrichment Score","titlePadding":-2}},
   "color":{"field":"s","type":"nominal","scale":{"domain":["GOBP_COTRANSLATIONAL_PROTEIN_TARGETING_TO_MEMBRANE","GOBP_ESTABLISHMENT_OF_PROTEIN_LOCALIZATION_TO_ENDOPLASMIC_RETICULUM","GOBP_NUCLEAR_TRANSCRIBED_MRNA_CATABOLIC_PROCESS_NONSENSE_MEDIATED_DECAY","GOCC_CYTOSOLIC_RIBOSOME","GOMF_STRUCTURAL_CONSTITUENT_OF_RIBOSOME"],"range":["#B4AE4C","#7FA83A","#7E9C86","#6C82D6","#7B75CC"]},"legend":{"orient":"none","legendX":78,"legendY":0,"symbolSize":16}}
  }},
 {"width":161,"height":22,"data":{"name":"tC"},
  "mark":{"type":"tick","thickness":2,"size":5.5},
  "encoding":{
   "x":{"field":"r","type":"quantitative","scale":{"domain":[0,14300],"nice":false,"zero":false},"axis":null},
   "y":{"field":"k","type":"nominal","axis":{"labels":false,"ticks":false,"title":null}},
   "color":{"field":"k","type":"nominal","scale":{"domain":[1,2,3,4,5],"range":["#C49A55","#8C8A2A","#6F8F6B","#7466DA","#8A84C6"]},"legend":null}
  }},
 {"width":160,"height":22,"data":{"name":"tD"},
  "mark":{"type":"tick","thickness":1.2,"size":5},
  "encoding":{
   "x":{"field":"r","type":"quantitative","scale":{"domain":[0,14300],"nice":false,"zero":false},"axis":null},
   "y":{"field":"k","type":"nominal","axis":{"labels":false,"ticks":false,"title":null}},
   "color":{"field":"k","type":"nominal","scale":{"domain":[1,2,3,4,5],"range":["#9AAA40","#8A80C8","#7BAA4A","#6C86D8","#C8805A"]},"legend":null}
  }},
 {"width":161,"height":41,"data":{"name":"metric"},
  "encoding":{
   "x":{"field":"r","type":"quantitative","scale":{"domain":[0,14300],"nice":false,"zero":false},"axis":{"values":[2500,5000,7500,10000,12500],"format":"d","labelExpr":"datum.value % 5000 === 0 ? datum.label : ''","labelFontSize":6.5,"labelColor":"#222","labelPadding":1,"title":"Rank in Ordered Dataset","titleFontSize":6.3,"titlePadding":1,"grid":true,"gridColor":"#e6e6e6","tickColor":{"condition":{"test":"datum.value % 5000 === 0","value":"#444"},"value":"transparent"}}},
   "y":{"field":"m","type":"quantitative","scale":{"domain":[-1.4,1],"nice":false,"zero":false},"axis":{"values":[-1,-0.5,0,0.5],"format":".1f","title":"Ranked List Metric","titlePadding":-2}}
  },
  "layer":[
   {"mark":{"type":"area","color":"#cbc3c7"},"encoding":{"y2":{"datum":0}}},
   {"mark":{"type":"line","color":"#8e868a","strokeWidth":1}}
  ]},
 {"width":160,"height":41,"data":{"name":"metric"},
  "encoding":{
   "x":{"field":"r","type":"quantitative","scale":{"domain":[0,14300],"nice":false,"zero":false},"axis":{"values":[2500,5000,7500,10000,12500],"format":"d","labelExpr":"datum.value % 5000 === 0 ? datum.label : ''","labelFontSize":6.5,"labelColor":"#222","labelPadding":1,"title":"Rank in Ordered Dataset","titleFontSize":6.3,"titlePadding":0,"grid":true,"gridColor":"#e6e6e6","tickColor":{"condition":{"test":"datum.value % 5000 === 0","value":"#444"},"value":"transparent"}}},
   "y":{"field":"m","type":"quantitative","scale":{"domain":[-1.4,1],"nice":false,"zero":false},"axis":{"values":[-1,-0.5,0,0.5],"format":".1f","title":"Ranked List Metric","titlePadding":-2}}
  },
  "layer":[
   {"mark":{"type":"area","color":"#cbc3c7"},"encoding":{"y2":{"datum":0}}},
   {"mark":{"type":"line","color":"#8e868a","strokeWidth":1}}
  ]}
]
}
